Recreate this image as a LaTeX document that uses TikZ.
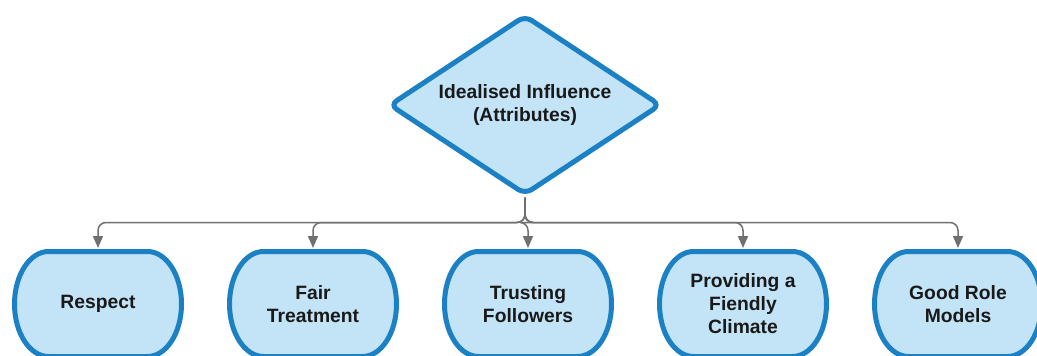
\documentclass[tikz,border=0pt]{standalone}
\usepackage{fontspec}
\setmainfont{Liberation Sans}
\usetikzlibrary{arrows.meta,shapes.geometric,positioning,backgrounds}

\definecolor{attrline}{HTML}{1B80C4}
\definecolor{attrfill}{HTML}{C3E4F7}
\definecolor{linkgray}{HTML}{707070}

\begin{document}
\begin{tikzpicture}[x=1pt,y=-1pt,node distance=48pt,
    attr/.style={line width=5pt,align=center,text=black!90,
        font=\fontsize{19.3}{23}\selectfont\bfseries},
    decision/.style={attr,draw=attrline,fill=attrfill,diamond,aspect=1.53,inner sep=0pt,
        minimum width=272pt,minimum height=180pt,rounded corners=8pt},
    trait/.style={attr,rectangle,outer sep=0pt,minimum width=167pt,minimum height=105pt},
    traitbox/.style={draw=attrline,fill=attrfill,line width=5pt},
    link/.style={draw=linkgray,line width=1.5pt,rounded corners=8pt,-{Triangle[length=12pt,width=10pt]},shorten >=3.5pt}]

            \useasboundingbox (0,0) rectangle (1037,356);

            \node[decision] (ii) at (525,105) {Idealised Influence\\(Attributes)};

            \node[trait] (t1) at (98,304) {Respect};

            \node[trait] (t2) [right=of t1] {Fair\\Treatment};

            \node[trait] (t3) [right=of t2] {Trusting\\Followers};

            \node[trait] (t4) [right=of t3] {Providing a\\Fiendly\\Climate};

            \node[trait] (t5) [right=of t4] {Good Role\\Models};

            % outlines with curved sides, behind the texts
            \begin{scope}[on background layer]
            \foreach \n in {t1,t2,t3,t4,t5}
	   {
                \path[traitbox] ([xshift=34pt]\n.north west) -- ([xshift=-34pt]\n.north east)
                    arc[start angle=90,end angle=-90,x radius=34pt,y radius=52.5pt]
                    -- ([xshift=34pt]\n.south west)
                    arc[start angle=270,end angle=90,x radius=34pt,y radius=52.5pt] -- cycle;
              }
            \end{scope}

            \foreach \to in {t1,t2,t3,t4,t5}
	   {
                \path[link] (ii.south) -- ++(0,25) -| (\to.north);
              }

        \end{tikzpicture}
\end{document}
